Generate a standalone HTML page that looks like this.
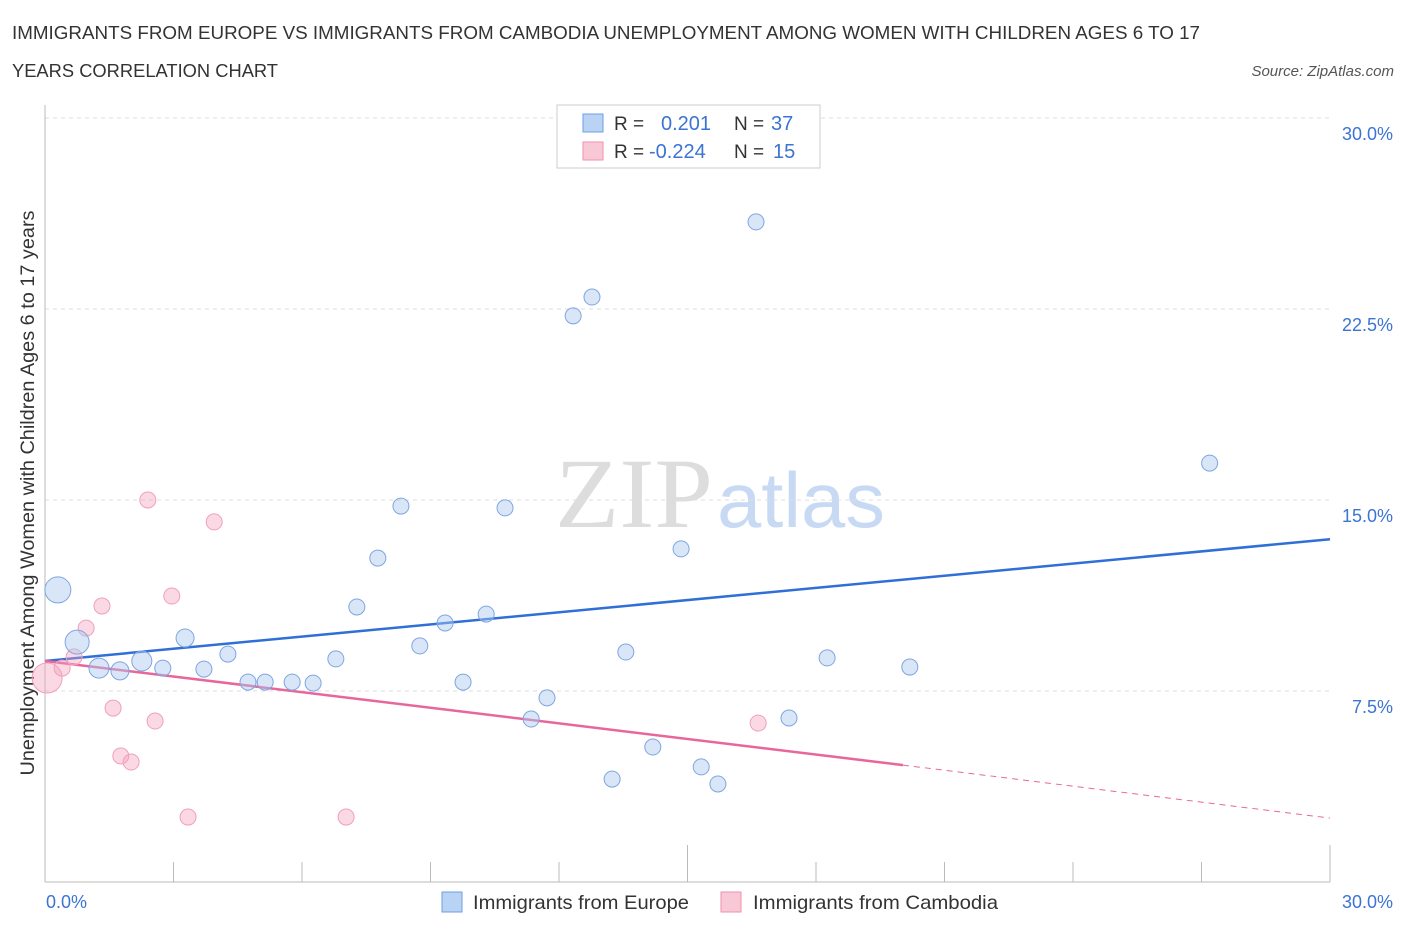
<!DOCTYPE html>
<html><head><meta charset="utf-8"><style>
body{margin:0;background:#fff;font-family:"Liberation Sans",sans-serif}
</style></head><body>
<svg id="chart" width="1406" height="930" xmlns="http://www.w3.org/2000/svg" font-family="Liberation Sans, sans-serif">
<text x="12" y="39" font-size="18.5" fill="#333" textLength="1188" lengthAdjust="spacingAndGlyphs">IMMIGRANTS FROM EUROPE VS IMMIGRANTS FROM CAMBODIA UNEMPLOYMENT AMONG WOMEN WITH CHILDREN AGES 6 TO 17</text>
<text x="12" y="77" font-size="18.5" fill="#333" textLength="266" lengthAdjust="spacingAndGlyphs">YEARS CORRELATION CHART</text>
<text x="1394" y="76" font-size="15" fill="#555" text-anchor="end" font-style="italic">Source: ZipAtlas.com</text>
<text x="555" y="527" font-size="100" fill="#ddd" font-family="Liberation Serif, serif" textLength="158" lengthAdjust="spacingAndGlyphs">ZIP</text>
<text x="717" y="527" font-size="78" fill="#c8daf3" textLength="168" lengthAdjust="spacingAndGlyphs">atlas</text>
<text transform="translate(34,493) rotate(-90)" font-size="19" fill="#333" text-anchor="middle" textLength="565" lengthAdjust="spacingAndGlyphs">Unemployment Among Women with Children Ages 6 to 17 years</text>
<g id="grid"></g><g id="axes"></g><g id="lines"></g><g id="points"></g>
<g>
<rect x="557" y="105" width="263" height="63" fill="#fff" stroke="#ccc"/>
<rect x="583" y="114" width="20" height="18" fill="#b9d3f5" stroke="#6f9ee0"/>
<rect x="583" y="142" width="20" height="18" fill="#f9c8d6" stroke="#ee92ae"/>
<text x="614" y="130" font-size="19" fill="#333">R = </text><text x="661" y="130" font-size="20" fill="#3b74d4">0.201</text>
<text x="734" y="130" font-size="19" fill="#333">N = </text><text x="771" y="130" font-size="20" fill="#3b74d4">37</text>
<text x="614" y="158" font-size="19" fill="#333">R = </text><text x="649" y="158" font-size="20" fill="#3b74d4">-0.224</text>
<text x="734" y="158" font-size="19" fill="#333">N = </text><text x="773" y="158" font-size="20" fill="#3b74d4">15</text>
</g>
<g>
<rect x="442" y="892" width="20" height="20" fill="#b9d3f5" stroke="#6f9ee0"/>
<text x="473" y="909" font-size="19.5" fill="#333" textLength="216" lengthAdjust="spacingAndGlyphs">Immigrants from Europe</text>
<rect x="721" y="892" width="20" height="20" fill="#f9c8d6" stroke="#ee92ae"/>
<text x="753" y="909" font-size="19.5" fill="#333" textLength="245" lengthAdjust="spacingAndGlyphs">Immigrants from Cambodia</text>
</g>
</svg>
<script>
const europeX=[0.30,0.75,1.26,1.75,2.26,2.75,3.27,3.71,4.27,4.74,5.14,5.77,6.26,6.79,7.28,7.77,8.31,8.75,9.34,9.76,10.30,10.74,11.35,11.72,12.33,12.77,13.24,13.56,14.19,14.85,15.32,15.71,16.60,17.37,18.26,20.19,27.19];
const europeY=[11.47,9.42,8.40,8.29,8.68,8.40,9.58,8.36,8.95,7.85,7.85,7.85,7.81,8.76,10.80,12.72,14.76,9.27,10.17,7.85,10.52,14.69,6.40,7.23,22.23,22.97,4.04,9.03,5.30,13.08,4.52,3.85,25.92,6.44,8.80,8.44,16.45];
const europeR=[13,12,10,9,10,8,9,8,8,8,8,8,8,8,8,8,8,8,8,8,8,8,8,8,8,8,8,8,8,8,8,8,8,8,8,8,8];
const cambodiaX=[0.05,0.40,0.68,0.96,1.33,1.59,1.77,2.01,2.40,2.57,2.96,3.34,3.95,7.03,16.65];
const cambodiaY=[8.01,8.40,8.84,9.97,10.84,6.83,4.95,4.71,15.0,6.32,11.23,2.55,14.14,2.55,6.24];
const cambodiaR=[15,8,8,8,8,8,8,8,8,8,8,8,8,8,8];
const yTicks=[7.5,15,22.5,30];
const yTickLabels=["7.5%","15.0%","22.5%","30.0%"];
const europeTrend=[[0,8.68],[30,13.46]];
const cambodiaTrend=[[0,8.68],[20.03,4.59],[30,2.51]];
const NS="http://www.w3.org/2000/svg";
const sx=v=>45+v/30*1285, sy=v=>882-v/7.5*191;
function mk(t,a,p){const e=document.createElementNS(NS,t);for(const k in a)e.setAttribute(k,a[k]);document.getElementById(p).appendChild(e);return e;}
yTicks.forEach((t,i)=>{
 const g=mk('line',{x1:45,x2:1330,y1:sy(t),y2:sy(t),stroke:'#ddd','stroke-dasharray':'4,4'},'grid');
 
 
 const l=mk('text',{x:1393,y:sy(t)+22,'font-size':18,fill:'#3b74d4','text-anchor':'end'},'grid');
 l.textContent=yTickLabels[i];
 
 
});
const ax=mk('line',{x1:45,x2:45,y1:105,y2:882,stroke:'#bbb'},'axes');


const bx=mk('line',{x1:45,x2:1330,y1:882,y2:882,stroke:'#bbb'},'axes');


for(let i=0;i<=10;i++){const v=i*3;
 const tk=mk('line',{x1:sx(v),x2:sx(v),y1:(i==5||i==10)?845:862,y2:882,stroke:'#bbb'},'axes');
 
 }
[[0,"0.0%",46,'start'],[30,"30.0%",1393,'end']].forEach(a=>{const t=mk('text',{x:a[2],y:908,'font-size':18,fill:'#3b74d4','text-anchor':a[3]},'axes');t.textContent=a[1];
 
 });
const bl=mk('line',{x1:sx(europeTrend[0][0]),y1:sy(europeTrend[0][1]),x2:sx(europeTrend[1][0]),y2:sy(europeTrend[1][1]),stroke:'#2f6fd6','stroke-width':2.5},'lines');


const pl=mk('line',{x1:sx(cambodiaTrend[0][0]),y1:sy(cambodiaTrend[0][1]),x2:sx(cambodiaTrend[1][0]),y2:sy(cambodiaTrend[1][1]),stroke:'#e8679a','stroke-width':2.5},'lines');


const pd=mk('line',{x1:sx(cambodiaTrend[1][0]),y1:sy(cambodiaTrend[1][1]),x2:sx(cambodiaTrend[2][0]),y2:sy(cambodiaTrend[2][1]),stroke:'#e8679a','stroke-width':1,'stroke-dasharray':'6,5'},'lines');


cambodiaX.forEach((x,i)=>{const c=mk('circle',{cx:sx(x),cy:sy(cambodiaY[i]),r:cambodiaR[i],fill:'rgba(244,160,188,0.4)',stroke:'#f0a0ba','stroke-width':1},'points');
 
 });
europeX.forEach((x,i)=>{const c=mk('circle',{cx:sx(x),cy:sy(europeY[i]),r:europeR[i],fill:'rgba(170,200,240,0.45)',stroke:'#7ea6e0','stroke-width':1},'points');
 
 });
</script>
</body></html>
